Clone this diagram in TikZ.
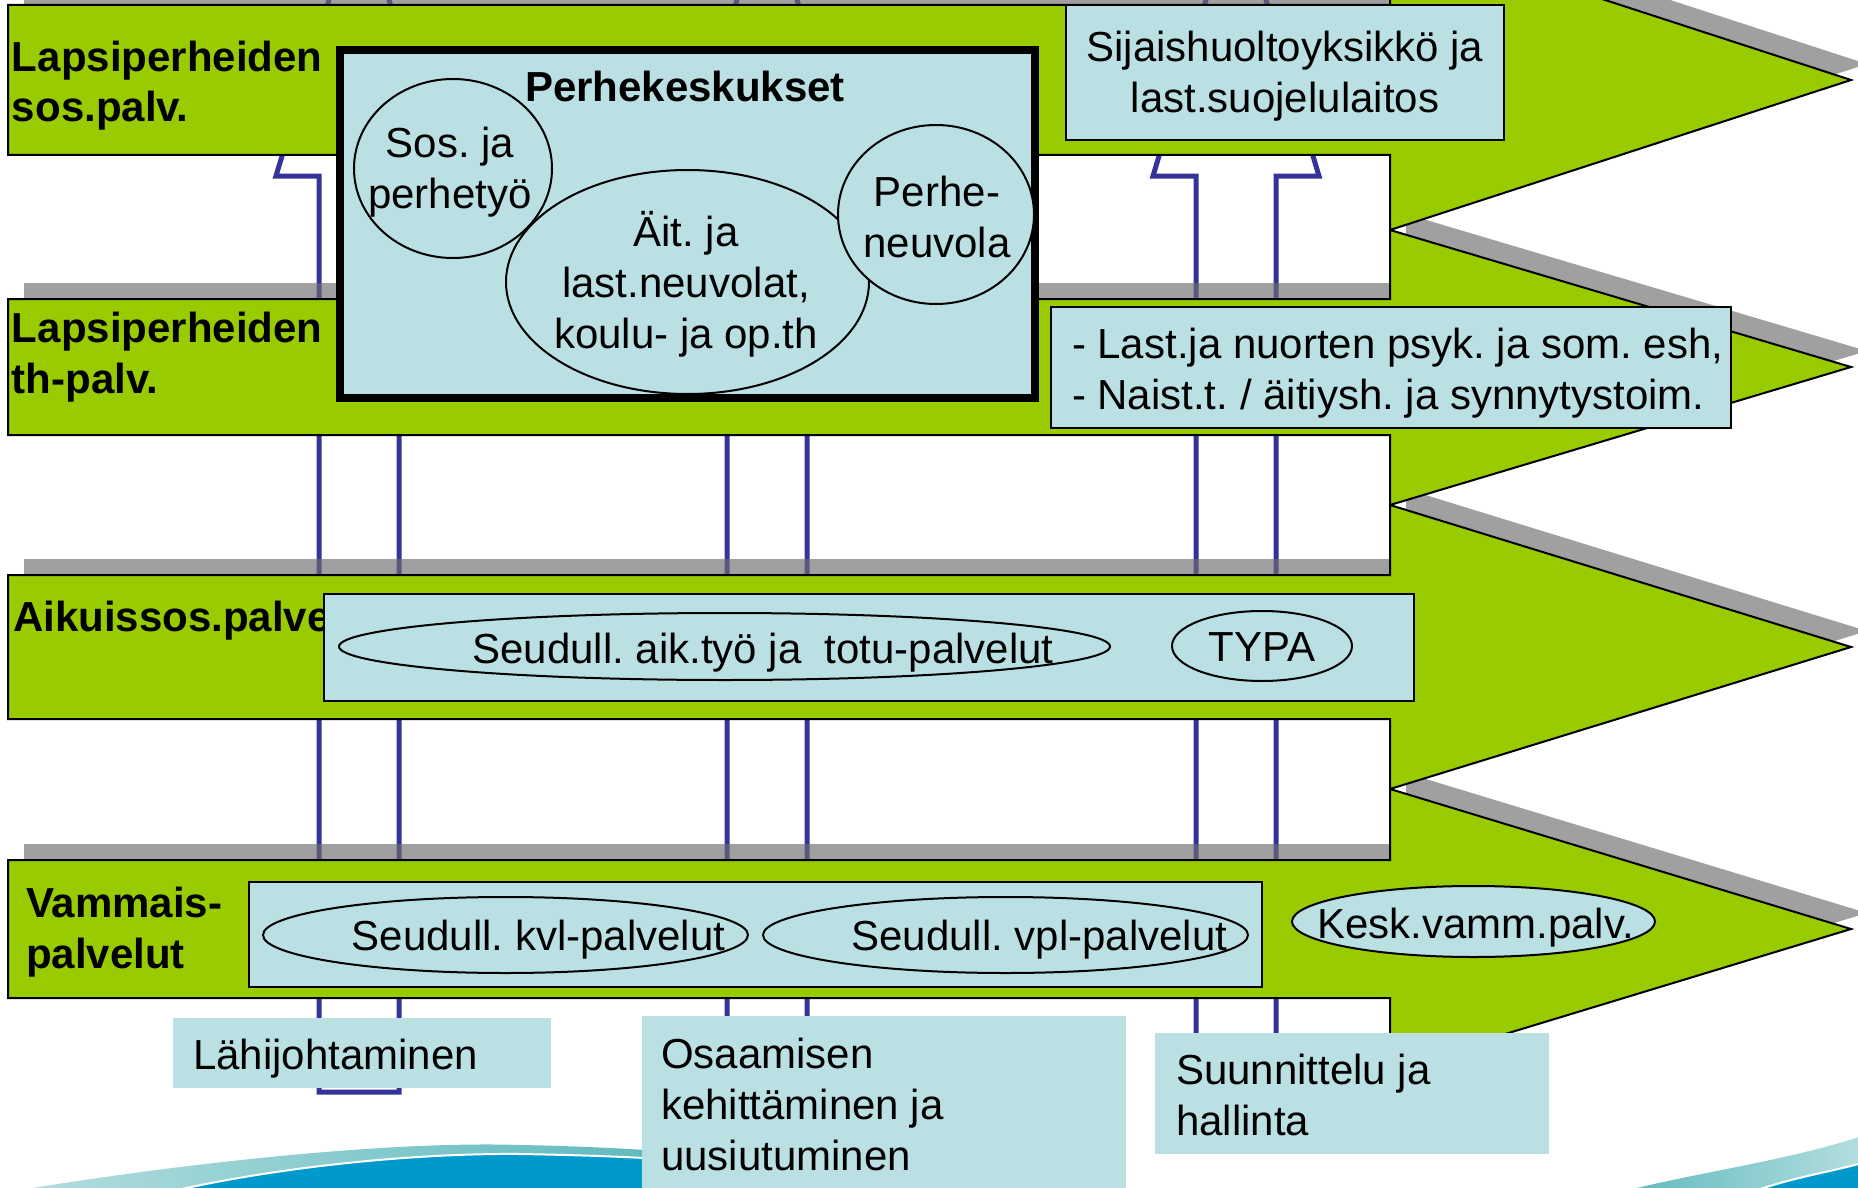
\documentclass[tikz,border=0pt]{standalone}
\usepackage{fontspec}
\setmainfont{Liberation Sans}
\usetikzlibrary{shapes.geometric}
\definecolor{grn}{RGB}{153,204,0}
\definecolor{lblue}{RGB}{187,224,227}
\definecolor{navy}{RGB}{51,51,153}
\definecolor{shd}{RGB}{110,110,110}
\definecolor{wblue}{RGB}{0,153,204}
\definecolor{wteal}{RGB}{95,185,190}
\definecolor{wteall}{RGB}{180,222,222}
\frenchspacing
\begin{document}
\begin{tikzpicture}[x=1pt,y=-1pt,
  txt/.style={font=\fontsize{42}{51}\selectfont, inner sep=0pt, outer sep=0pt},
  btxt/.style={txt, font=\fontsize{42}{51}\selectfont\bfseries},
  greenarrow/.style={fill=grn, draw=black, line width=2pt, line join=miter},
  shadowfill/.style={fill=shd, fill opacity=0.65, draw=none},
  blockarrow/.style={draw=navy, line width=5pt, fill=white, line join=miter},
  panel/.style={draw=black, line width=2pt, fill=lblue, inner sep=0pt, outer sep=0pt, anchor=north west},
  flatpanel/.style={fill=lblue, draw=none, inner sep=0pt, outer sep=0pt, anchor=north west},
  oval/.style={ellipse, draw=black, line width=2pt, fill=lblue, inner sep=0pt},
]
\useasboundingbox (0,0) rectangle (1858,1188);
\clip (0,0) rectangle (1858,1188);
\fill[white] (0,0) rectangle (1858,1188);

% background wave
\shade[left color=wteall, right color=wteal] (8,1192) .. controls (200,1160) and (400,1141) .. (520,1145) .. controls (580,1146) and (630,1149) .. (662,1151) -- (662,1192) -- cycle;
\fill[wblue, draw=white, line width=2pt] (160,1194) .. controls (260,1170) and (400,1153) .. (520,1154) .. controls (580,1155) and (630,1157) .. (662,1159) -- (662,1194) -- cycle;
\shade[left color=wteal, right color=wteall] (1620,1192) .. controls (1700,1172) and (1790,1160) .. (1862,1136) -- (1862,1192) -- cycle;
\fill[wblue, draw=white, line width=2pt] (1752,1192) .. controls (1790,1178) and (1830,1172) .. (1862,1163) -- (1862,1192) -- cycle;

% upward block arrows
\draw[blockarrow] (319,1092) -- (319,176) -- (276,176) -- (359,-100) -- (442,176) -- (399,176) -- (399,1092) -- cycle;
\draw[blockarrow] (727,1092) -- (727,176) -- (684,176) -- (767,-100) -- (850,176) -- (807,176) -- (807,1092) -- cycle;
\draw[blockarrow] (1196,1092) -- (1196,176) -- (1153,176) -- (1236,-100) -- (1319,176) -- (1276,176) -- (1276,1092) -- cycle;

% arrow 4
\begin{scope}[shift={(16,-16)}]
\fill[shadowfill] (8,860) -- (1390,860) -- (1390,789) -- (1851,929) -- (1390,1069) -- (1390,998) -- (8,998) -- cycle;
\end{scope}
\draw[greenarrow] (8,860) -- (1390,860) -- (1390,789) -- (1851,929) -- (1390,1069) -- (1390,998) -- (8,998) -- cycle;
% arrow 3
\begin{scope}[shift={(16,-16)}]
\fill[shadowfill] (8,575) -- (1390,575) -- (1390,505) -- (1851,647) -- (1390,789) -- (1390,719) -- (8,719) -- cycle;
\end{scope}
\draw[greenarrow] (8,575) -- (1390,575) -- (1390,505) -- (1851,647) -- (1390,789) -- (1390,719) -- (8,719) -- cycle;
% arrow 2
\begin{scope}[shift={(16,-16)}]
\fill[shadowfill] (8,299) -- (1390,299) -- (1390,230) -- (1851,367) -- (1390,505) -- (1390,435) -- (8,435) -- cycle;
\end{scope}
\draw[greenarrow] (8,299) -- (1390,299) -- (1390,230) -- (1851,367) -- (1390,505) -- (1390,435) -- (8,435) -- cycle;
% arrow 1
\begin{scope}[shift={(16,-16)}]
\fill[shadowfill] (8,5) -- (1390,5) -- (1390,-70) -- (1851,80) -- (1390,230) -- (1390,155) -- (8,155) -- cycle;
\end{scope}
\draw[greenarrow] (8,5) -- (1390,5) -- (1390,-70) -- (1851,80) -- (1390,230) -- (1390,155) -- (8,155) -- cycle;

% row labels (multi-line: base = last line)
\node[btxt, anchor=base west, align=left] (l1) at (12,122) {Lapsiperheiden\\sos.palv.};
\node[btxt, anchor=base west, align=left] (l2) at (12,393) {Lapsiperheiden\\th-palv.};
\node[btxt, anchor=base west] (l3) at (13,631) {Aikuissos.palvelut};
\node[btxt, anchor=base west, align=left] (l4) at (26,968) {Vammais-\\palvelut};

% panels
\node[panel, line width=8pt, minimum width=695, minimum height=348] (perhe) at (340,50) {};
\node[panel, minimum width=438, minimum height=135] (sij) at (1066,5) {};
\node[panel, minimum width=680, minimum height=121] (esh) at (1051,307) {};
\node[panel, minimum width=1090, minimum height=107] (aik) at (324,594) {};
\node[panel, minimum width=1013, minimum height=105] (vam) at (249,882) {};
\node[flatpanel, minimum width=378, minimum height=70] (lahi) at (173,1018) {};
\node[flatpanel, minimum width=484, minimum height=180] (osa) at (642,1016) {};
\node[flatpanel, minimum width=394, minimum height=121] (suu) at (1155,1033) {};

% ovals
\node[oval, minimum width=198, minimum height=179] (sosc) at (453,168.5) {};
\node[oval, minimum width=363, minimum height=224] (aitc) at (687.5,282) {};
\node[oval, minimum width=196, minimum height=179] (perc) at (936,214.5) {};
\node[oval, minimum width=771, minimum height=67] (aikc) at (724.5,646.5) {};
\node[oval, minimum width=180, minimum height=70] (typc) at (1262,646) {};
\node[oval, minimum width=485, minimum height=76] (kvlc) at (505.5,935) {};
\node[oval, minimum width=485, minimum height=76] (vplc) at (1005.5,935) {};
\node[oval, minimum width=363, minimum height=71] (kesc) at (1473.5,921.5) {};

% texts
\node[btxt, anchor=base] (t1) at (685,102) {Perhekeskukset};
\node[txt, anchor=base, align=center] (t2) at (450,208) {Sos. ja\\perhetyö};
\node[txt, anchor=base, align=center] (t3) at (686,348) {Äit. ja\\last.neuvolat,\\koulu- ja op.th};
\node[txt, anchor=base, align=center] (t4) at (937,257) {Perhe-\\neuvola};
\node[txt, anchor=base, align=center] (t5) at (1285,113) {Sijaishuoltoyksikkö ja\\last.suojelulaitos};
\node[txt, anchor=base west, align=left] (t6) at (1072,409) {- Last.ja nuorten psyk. ja som. esh,\\- Naist.t. / äitiysh. ja synnytystoim.};
\node[txt, anchor=base] (t7) at (763,663) {Seudull. aik.työ ja\ \ totu-palvelut};
\node[txt, anchor=base] (t8) at (1262,661) {TYPA};
\node[txt, anchor=base] (t9) at (538.5,950) {Seudull. kvl-palvelut};
\node[txt, anchor=base] (t10) at (1039.5,950) {Seudull. vpl-palvelut};
\node[txt, anchor=base] (t11) at (1475.5,938) {Kesk.vamm.palv.};
\node[txt, anchor=base west] (t12) at (193,1069) {Lähijohtaminen};
\node[txt, anchor=base west, align=left] (t13) at (661,1170) {Osaamisen\\kehittäminen ja\\uusiutuminen};
\node[txt, anchor=base west, align=left] (t14) at (1176,1135) {Suunnittelu ja\\hallinta};
\end{tikzpicture}
\end{document}
